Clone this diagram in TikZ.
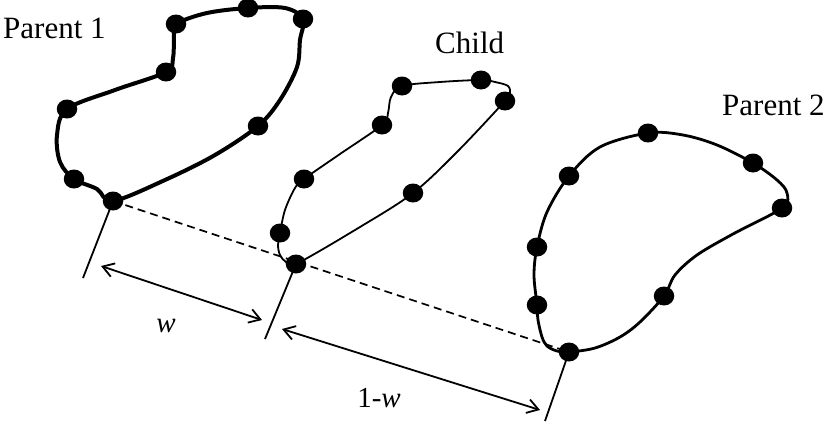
\documentclass[tikz,border=0pt]{standalone}
\usepackage{fontspec}
\setmainfont{Liberation Serif}
\usetikzlibrary{arrows.meta,shapes.geometric}
\begin{document}
\begin{tikzpicture}[x=1pt,y=-1pt,
  dot/.style={ellipse,fill=black,inner sep=0pt,minimum width=20.5pt,minimum height=19pt},
  thickcurve/.style={line width=4pt,line join=round},
  thincurve/.style={line width=1.8pt,line join=round},
  midcurve/.style={line width=2.8pt,line join=round},
  tick/.style={line width=1.8pt},
  dimarrow/.style={line width=1.8pt,{Straight Barb[length=11pt,width=14pt]}-{Straight Barb[length=11pt,width=14pt]}},
  guide/.style={line width=1.7pt,dash pattern=on 8pt off 5pt},
  lbl/.style={inner sep=0pt,font=\fontsize{31}{36}\selectfont},
  wlbl/.style={inner sep=0pt,font=\fontsize{29}{34}\selectfont}]
\useasboundingbox (0,0) rectangle (827,421);

% Parent 1
\draw[thickcurve] plot[smooth cycle,tension=0.55] coordinates {
 (113,201) (97,189) (74,179) (60,162) (57,135) (67,109) (115,90) (166,72)
 (173,58) (174,36) (176,24) (207,13) (248,8) (285,8) (303,19) (300,40) (297,67)
 (280,100) (258,126) (215,155) (165,180)};
% Child
\draw[thincurve] plot[smooth cycle,tension=0.55] coordinates {
 (296,264) (286,262) (280,255) (278,245) (280,233) (285,210) (295,188) (304,179)
 (340,154) (382,125) (388,113) (391,97) (402,86) (440,82) (481,80) (495,82) (508,86)
 (510,94) (505,101) (457,152) (413,193) (360,227)};
% Parent 2
\draw[midcurve] plot[smooth cycle,tension=0.55] coordinates {
 (569,352) (557,351) (547,346) (542,337) (538,320) (537,305) (534,275) (537,247)
 (547,212) (569,176) (600,147) (648,133) (683,135) (717,145) (753,163) (777,180)
 (787,193) (782,208) (733,234) (697,255) (675,275) (664,296) (640,322) (620,337)
 (595,348)};

% ticks and guide (drawn before dots)
\coordinate (t1) at (83,278);
\coordinate (t2) at (265,339);
\coordinate (t3) at (545,421);
\coordinate (c1) at (113,201);
\coordinate (c2) at (296,264);
\coordinate (c3) at (569,352);
\draw[tick] (c1) -- (t1);
\draw[tick] (c2) -- (t2);
\draw[tick] (c3) -- (t3);
\draw[guide] (c1) -- (c3);

% dots Parent 1
\node[dot] (p1a) at (c1) {};
\node[dot] (p1b) at (74,179) {};
\node[dot] (p1c) at (67,109) {};
\node[dot] (p1d) at (166,72) {};
\node[dot] (p1e) at (176,24) {};
\node[dot] (p1f) at (248,8) {};
\node[dot] (p1g) at (303,19) {};
\node[dot] (p1h) at (258,126) {};
% dots Child
\node[dot] (cha) at (c2) {};
\node[dot] (chb) at (280,233) {};
\node[dot] (chc) at (304,179) {};
\node[dot] (chd) at (382,125) {};
\node[dot] (che) at (402,86) {};
\node[dot] (chf) at (481,80) {};
\node[dot] (chg) at (505,101) {};
\node[dot] (chh) at (413,193) {};
% dots Parent 2
\node[dot] (p2a) at (c3) {};
\node[dot] (p2b) at (537,305) {};
\node[dot] (p2c) at (537,247) {};
\node[dot] (p2d) at (569,176) {};
\node[dot] (p2e) at (648,133) {};
\node[dot] (p2f) at (753,163) {};
\node[dot] (p2g) at (782,208) {};
\node[dot] (p2h) at (664,296) {};

% dimension arrows
\coordinate (w1) at (101,266);
\coordinate (w2) at (262,320);
\coordinate (v1) at (282,329);
\coordinate (v2) at (540,410);
\draw[dimarrow] (w1) -- (w2);
\draw[dimarrow] (v1) -- (v2);

% labels
\node[lbl,anchor=base west] (l1) at (3,38) {Parent 1};
\node[lbl,anchor=base west] (l2) at (435,53) {Child};
\node[lbl,anchor=base west] (l3) at (722,115) {Parent 2};
\node[wlbl,anchor=base] (lw) at (166,332) {\itshape w};
\node[wlbl,anchor=base] (lv) at (379,407) {1-\itshape w};
\end{tikzpicture}
\end{document}
